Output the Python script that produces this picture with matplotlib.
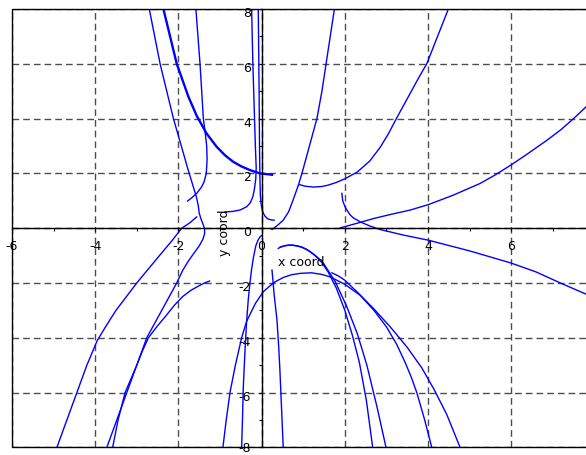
import numpy as np
import matplotlib
matplotlib.use("Agg")
import matplotlib.pyplot as plt
from matplotlib.patches import Rectangle
from matplotlib.ticker import FixedLocator
from matplotlib.transforms import ScaledTranslation

plt.rcParams['axes.unicode_minus'] = False

# solution curves, (x, y) points along each trajectory
upper_left_a = [(-2.70, 8.0), (-2.57, 7.0), (-2.44, 6.0), (-2.28, 5.0), (-2.12, 4.0),
                (-1.93, 3.0), (-1.78, 2.2), (-1.64, 1.5), (-1.56, 1.1), (-1.52, 0.8),
                (-1.50, 0.55), (-1.46, 0.35), (-1.41, 0.15), (-1.37, -0.02), (-1.37, -0.2),
                (-1.41, -0.4), (-1.50, -0.65), (-1.62, -0.9), (-1.76, -1.2), (-1.90, -1.55),
                (-2.04, -2.0), (-2.22, -2.5), (-2.40, -3.0), (-2.58, -3.5), (-2.76, -4.0),
                (-3.0, -5.0), (-3.24, -6.0), (-3.48, -7.0), (-3.72, -8.0)]
upper_left_b = [(-2.36, 8.0), (-2.20, 7.0), (-2.04, 6.0), (-1.90, 5.4), (-1.76, 4.8),
                (-1.56, 4.1), (-1.32, 3.45), (-1.08, 2.97), (-0.88, 2.66), (-0.68, 2.42),
                (-0.48, 2.25), (-0.28, 2.12), (-0.04, 2.0), (0.25, 1.95)]
upper_left_c = [(-1.58, 8.0), (-1.53, 7.0), (-1.48, 6.0), (-1.44, 5.0), (-1.40, 4.0),
                (-1.35, 3.4), (-1.32, 3.0), (-1.31, 2.5), (-1.33, 2.0), (-1.38, 1.7),
                (-1.44, 1.51), (-1.56, 1.27), (-1.67, 1.12), (-1.78, 0.99)]
near_axis_a = [(-0.24, 8.0), (-0.21, 6.0), (-0.18, 4.5), (-0.15, 3.0), (-0.13, 2.2),
               (-0.14, 1.8), (-0.17, 1.45), (-0.21, 1.15), (-0.27, 0.93), (-0.36, 0.78),
               (-0.52, 0.66), (-0.70, 0.61), (-0.88, 0.59)]
near_axis_b = [(-0.08, 8.0), (-0.06, 5.0), (-0.05, 3.0), (-0.04, 1.8), (-0.03, 1.2),
               (-0.01, 0.85), (0.03, 0.58), (0.08, 0.44), (0.14, 0.35), (0.20, 0.31),
               (0.30, 0.29)]
upper_right_a = [(0.25, -0.05), (0.38, 0.1), (0.52, 0.29), (0.65, 0.6), (0.75, 1.0),
                 (0.88, 1.55), (0.97, 2.0), (1.06, 2.5), (1.15, 3.0), (1.24, 3.5),
                 (1.33, 4.0), (1.45, 5.0), (1.55, 6.0), (1.65, 7.0), (1.75, 8.0)]
upper_right_b = [(0.91, 1.59), (1.05, 1.53), (1.25, 1.50), (1.45, 1.52), (1.6, 1.57),
                 (1.8, 1.67), (2.0, 1.8), (2.3, 2.05), (2.6, 2.45), (2.85, 2.95),
                 (3.05, 3.45), (3.24, 4.0), (3.42, 4.5), (3.6, 5.0), (3.78, 5.5),
                 (3.97, 6.0), (4.23, 7.0), (4.49, 8.0)]
right_low = [(1.93, 1.27), (1.95, 1.0), (2.0, 0.8), (2.05, 0.66), (2.12, 0.5),
             (2.20, 0.38), (2.37, 0.23), (2.6, 0.08), (2.85, -0.05), (3.4, -0.25),
             (4.01, -0.44), (5.0, -0.83), (5.99, -1.27), (6.6, -1.6), (7.18, -2.0),
             (7.80, -2.41), (8.0, -2.55)]
right_high = [(1.89, 0.01), (2.3, 0.18), (2.69, 0.35), (3.1, 0.5), (3.57, 0.66),
              (4.01, 0.86), (4.6, 1.2), (5.25, 1.63), (5.6, 1.93), (5.99, 2.30),
              (6.4, 2.72), (6.86, 3.21), (7.2, 3.6), (7.50, 4.00), (7.80, 4.43), (8.0, 4.72)]
lower_left_a = [(-1.56, 0.41), (-1.63, 0.32), (-1.72, 0.20), (-1.82, 0.1), (-1.92, 0.0),
                (-2.15, -0.45), (-2.4, -0.9), (-2.7, -1.45), (-3.0, -2.0), (-3.25, -2.5),
                (-3.5, -3.0), (-3.73, -3.55), (-3.95, -4.1), (-4.2, -5.0), (-4.44, -6.0),
                (-4.68, -7.0), (-4.92, -8.0)]
lower_left_b = [(-1.25, -1.93), (-1.37, -2.0), (-1.5, -2.1), (-1.7, -2.27), (-1.9, -2.5),
                (-2.1, -2.82), (-2.3, -3.2), (-2.52, -3.6), (-2.72, -4.0), (-2.87, -4.5),
                (-3.0, -5.0), (-3.14, -5.5), (-3.28, -6.0), (-3.45, -7.0), (-3.58, -8.0)]
steep_a = [(-0.48, -8.0), (-0.46, -7.0), (-0.44, -5.8), (-0.40, -4.5), (-0.36, -3.4),
           (-0.32, -2.6), (-0.28, -2.0), (-0.24, -1.5), (-0.2, -1.1), (-0.14, -0.65),
           (-0.09, -0.45), (-0.04, -0.32), (0.0, -0.27)]
steep_b = [(0.25, -1.53), (0.30, -2.4), (0.37, -3.36), (0.41, -4.3), (0.44, -5.18),
           (0.48, -6.6), (0.52, -8.0)]
arch_wide = [(-0.93, -8.0), (-0.85, -7.0), (-0.76, -6.0), (-0.63, -5.0), (-0.48, -4.0),
             (-0.36, -3.4), (-0.15, -2.75), (0.04, -2.32), (0.3, -1.98), (0.52, -1.80),
             (0.72, -1.70), (0.93, -1.65), (1.2, -1.63), (1.45, -1.69), (1.65, -1.78),
             (2.0, -2.05), (2.37, -2.45), (2.7, -3.0), (3.0, -3.6), (3.25, -4.25),
             (3.45, -4.9), (3.6, -5.45), (3.73, -6.0), (3.92, -7.0), (4.09, -8.0)]
arch_right = [(1.69, -1.63), (1.85, -1.75), (2.0, -1.9), (2.29, -2.32), (2.7, -2.95),
              (3.09, -3.6), (3.5, -4.35), (3.85, -5.1), (4.15, -5.9), (4.45, -6.8),
              (4.77, -8.0)]
arch_a = [(0.40, -0.74), (0.47, -0.68), (0.55, -0.64), (0.65, -0.62), (0.75, -0.62),
          (0.88, -0.66), (1.0, -0.72), (1.13, -0.82), (1.25, -0.95), (1.43, -1.22),
          (1.6, -1.6), (1.8, -2.2), (2.0, -3.0), (2.18, -3.9), (2.35, -4.9),
          (2.52, -6.3), (2.67, -8.0)]
arch_b = [(0.44, -0.70), (0.57, -0.64), (0.7, -0.62), (0.83, -0.64), (0.95, -0.68),
          (1.08, -0.77), (1.2, -0.9), (1.35, -1.07), (1.49, -1.29), (1.77, -1.95),
          (2.05, -2.87), (2.3, -3.85), (2.53, -5.0), (2.77, -6.5), (2.99, -8.0)]

curves = [upper_left_a, upper_left_c, near_axis_a, near_axis_b, upper_right_a,
          upper_right_b, right_low, right_high, lower_left_a, lower_left_b, steep_a,
          steep_b, arch_wide, arch_right, arch_a, arch_b]

x_major = [-6, -4, -2, 0, 2, 4, 6]
x_minor = [-5, -3, -1, 1, 3, 5, 7]
y_major = [-8, -6, -4, -2, 0, 2, 4, 6, 8]
y_minor = [-7, -5, -3, -1, 1, 3, 5, 7]

fig = plt.figure(figsize=(5.86, 4.55), dpi=100)
ax = fig.add_axes([12 / 586, 7.7 / 455, 582.4 / 586, 438.3 / 455])
ax.set_xlim(-6, 8)
ax.set_ylim(-8, 8)

for c in curves:
    c = np.array(c)
    ax.plot(c[:, 0], c[:, 1], color='#0000ff', lw=1.0)
# this one is traced twice, so it looks heavier
c = np.array(upper_left_b)
ax.plot(c[:, 0], c[:, 1], color='#0000ff', lw=1.7)

# axes through the origin, plus a plain frame round the plot
for side in ['left', 'bottom']:
    ax.spines[side].set_position(('data', 0))
    ax.spines[side].set_linewidth(1.0)
ax.spines['top'].set_visible(False)
ax.spines['right'].set_visible(False)
ax.add_patch(Rectangle((0, 0), 1, 1, transform=ax.transAxes, fill=False,
                       ec='black', lw=1.0, clip_on=False, zorder=3))

ax.xaxis.set_major_locator(FixedLocator(x_major))
ax.xaxis.set_minor_locator(FixedLocator(x_minor))
ax.yaxis.set_major_locator(FixedLocator(y_major))
ax.yaxis.set_minor_locator(FixedLocator(y_minor))
ax.tick_params(which='both', direction='out', length=2.5, width=0.8, labelsize=9)
ax.tick_params(axis='x', pad=6)
ax.tick_params(axis='y', pad=5)
# y labels sit a little below their ticks; the bottom one stays inside the figure
for val, lab in zip(y_major, ax.get_yticklabels()):
    dy = -3 if val > -8 else 0
    lab.set_transform(lab.get_transform()
                      + ScaledTranslation(0, dy / 100, fig.dpi_scale_trans))

ax.grid(True, which='major', linestyle=(0, (4.8, 2.9)), color='0.3', lw=1.0)
ax.set_axisbelow(True)

ax.text(0.96, -1.27, 'x coord', ha='center', va='center', fontsize=9)
ax.text(-0.88, -0.15, 'y coord', rotation=90, ha='center', va='center', fontsize=9)

fig.savefig('out.png', dpi=100)
